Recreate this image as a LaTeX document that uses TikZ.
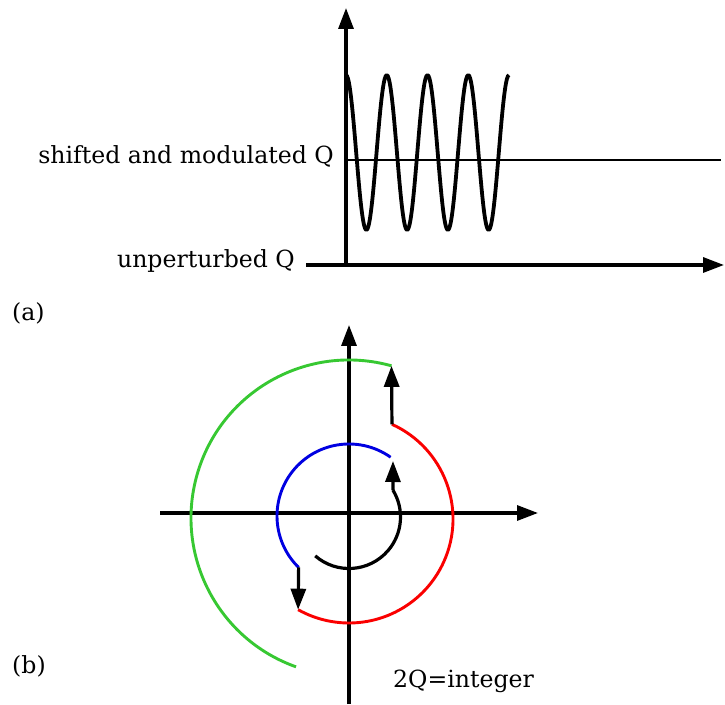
\documentclass[tikz,border=0pt]{standalone}
\usepackage{fontspec}
\setmainfont{DejaVu Serif}
\usetikzlibrary{arrows.meta,calc}
\definecolor{arcgreen}{RGB}{55,200,50}
\definecolor{arcred}{RGB}{250,0,0}
\definecolor{arcblue}{RGB}{0,0,225}
\begin{document}
\begin{tikzpicture}[x=1pt,y=1pt,font=\fontsize{23.6}{28}\selectfont,
  axis/.style={line width=3.2pt,-{Triangle[length=21pt,width=15pt]}},
  jump/.style={line width=3.2pt,-{Triangle[length=21pt,width=15pt]}},
  orbit/.style={line width=2.9pt},
  lbl/.style={inner sep=0pt,anchor=base east}]
\useasboundingbox (0,0) rectangle (725,704);
% (a) tune modulation
\coordinate (o1) at (346,439);
\coordinate (xs) at (306,439);
\coordinate (xe) at (724,439);
\coordinate (ye) at (346,696);
\node[lbl] (uq) at (295,436) {unperturbed Q};
\node[lbl] (sq) at (334,540) {shifted and modulated Q};
\node[inner sep=0pt,anchor=base west] (la) at (12,383) {(a)};
\draw[axis] (xs)--(xe);
\draw[axis,shorten <=-1.6pt] (o1)--(ye);
\draw[line width=1.5pt] (346,544)--(721,544);
\draw[line width=3.8pt,line join=round] plot[domain=0:4,samples=161,smooth]
  ({346+40.75*\x},{551.5+77.5*cos(360*\x)});
% (b) phase space
\coordinate (o2) at (349,191);
\coordinate (hx0) at (160,191);
\coordinate (hx1) at (538,191);
\coordinate (vy0) at (349,0);
\coordinate (vy1) at (349,379);
\draw[axis] (hx0)--(hx1);
\draw[axis] (vy0)--(vy1);
\draw[orbit,arcgreen] ($(349,186)+(74.4:158)$) coordinate (g0) arc[start angle=74.4,end angle=250.4,radius=158];
\draw[orbit,arcred] ($(349,185)+(65.6:104)$) coordinate (r0) arc[start angle=65.6,end angle=-119.3,radius=104] coordinate (r1);
\draw[orbit,arcblue] ($(349,188)+(54.7:72)$) arc[start angle=54.7,end angle=225.6,radius=72] coordinate (b1);
\draw[line width=3.2pt] ($(349,187)+(-131:51.5)$) arc[start angle=-131,end angle=31.5,radius=51.5] coordinate (k1);
\coordinate (k2) at (393,243);
\draw[jump] (k1)--(k2);
\draw[jump] (r0)--(g0);
\draw[jump] (b1)--(r1);
\node[inner sep=0pt,anchor=base west] (lb) at (12,31) {(b)};
\node[inner sep=0pt,anchor=base west] (res) at (393,17) {2Q=integer};
\end{tikzpicture}
\end{document}
